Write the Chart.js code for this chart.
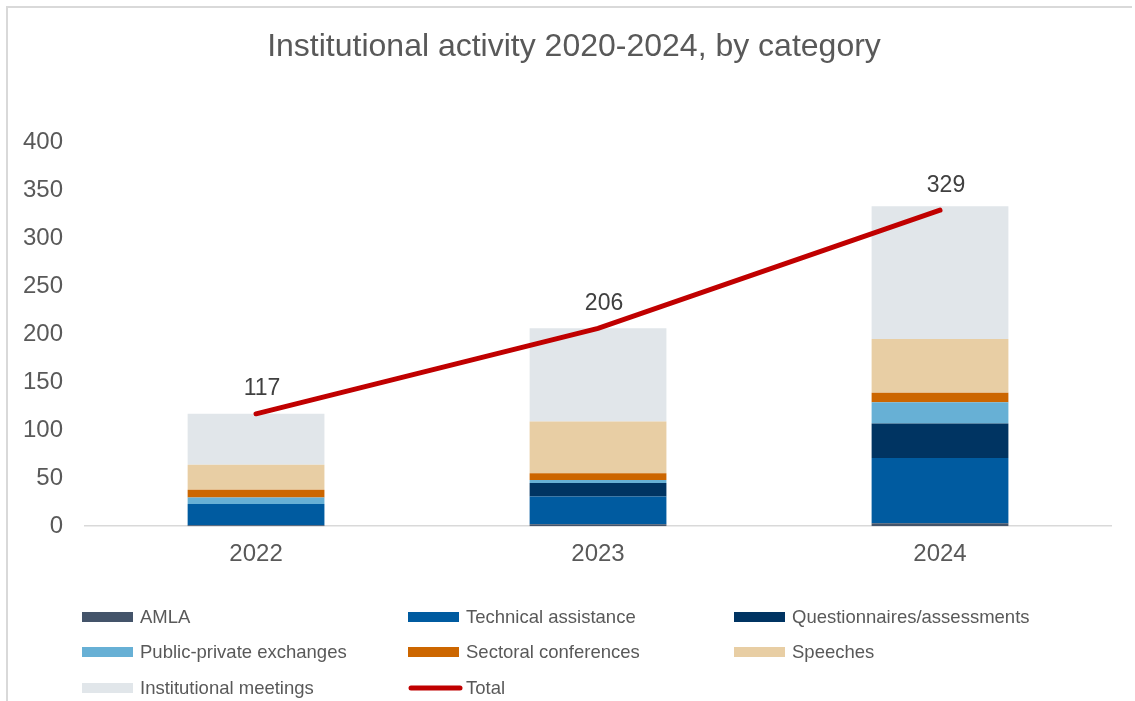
<!DOCTYPE html>
<html>
<head>
<meta charset="utf-8">
<script src="https://cdn.jsdelivr.net/npm/chart.js@4/dist/chart.umd.min.js"></script>
<style>
  html, body { margin: 0; padding: 0; background: #fff; }
  canvas { display: block; }
</style>
</head>
<body>
<canvas id="chart" width="1135" height="701"></canvas>
<script>
const years = ['2022', '2023', '2024'];
const amla = [1, 2, 3];
const technicalAssistance = [22, 29, 68];
const questionnaires = [0, 14, 36];
const publicPrivate = [7, 3, 22];
const sectoralConferences = [8, 7, 10];
const speeches = [26, 54, 56];
const institutionalMeetings = [53, 97, 138];
const total = [117, 206, 329];
const yTicks = [0, 50, 100, 150, 200, 250, 300, 350, 400];
const title = 'Institutional activity 2020-2024, by category';

const FONT = '"Liberation Sans", Arial, sans-serif';
const GREY = '#595959';

function bar(label, data, color) {
  return { type: 'bar', label, data, backgroundColor: color, stack: 'bars', order: 1,
           barPercentage: 0.4, categoryPercentage: 1 };
}

// frame, title, value labels and the 3-column legend
const extras = {
  id: 'extras',
  beforeDraw(chart) {
    const c = chart.ctx;
    c.save();
    c.strokeStyle = '#d9d9d9';
    c.lineWidth = 2;
    c.beginPath();
    c.moveTo(7, 701);
    c.lineTo(7, 7);
    c.lineTo(1132, 7);
    c.stroke();
    c.font = '32px ' + FONT;
    c.fillStyle = GREY;
    c.textAlign = 'center';
    c.textBaseline = 'middle';
    c.fillText(title, 574, 47);
    c.restore();
  },
  afterDatasetsDraw(chart) {
    const c = chart.ctx;
    const idx = chart.data.datasets.findIndex(d => d.type === 'line');
    const meta = chart.getDatasetMeta(idx);
    c.save();
    c.font = '23px ' + FONT;
    c.fillStyle = '#404040';
    c.textAlign = 'center';
    c.textBaseline = 'middle';
    meta.data.forEach((pt, i) => {
      c.fillText(String(total[i]), pt.x + 6, pt.y - 25);
    });
    c.restore();
  },
  afterDraw(chart) {
    const c = chart.ctx;
    const cols = [82, 408, 734];
    const rows = [617, 652, 688];
    c.save();
    c.font = '18.5px ' + FONT;
    c.fillStyle = GREY;
    c.textBaseline = 'middle';
    chart.data.datasets.forEach((ds, i) => {
      const x = cols[i % 3], y = rows[Math.floor(i / 3)];
      if (ds.type === 'line') {
        c.strokeStyle = ds.borderColor;
        c.lineWidth = 5;
        c.lineCap = 'round';
        c.beginPath();
        c.moveTo(x + 3, y);
        c.lineTo(x + 52, y);
        c.stroke();
      } else {
        c.fillStyle = ds.backgroundColor;
        c.fillRect(x, y - 5, 51, 10);
      }
      c.fillStyle = GREY;
      c.fillText(ds.label, x + 58, y + 1);
    });
    c.restore();
  }
};

new Chart(document.getElementById('chart'), {
  data: {
    labels: years,
    datasets: [
      bar('AMLA', amla, '#44546A'),
      bar('Technical assistance', technicalAssistance, '#005BA0'),
      bar('Questionnaires/assessments', questionnaires, '#003462'),
      bar('Public-private exchanges', publicPrivate, '#67B0D5'),
      bar('Sectoral conferences', sectoralConferences, '#CC6600'),
      bar('Speeches', speeches, '#E8CEA4'),
      bar('Institutional meetings', institutionalMeetings, '#E1E6EA'),
      { type: 'line', label: 'Total', data: total, borderColor: '#C00000', backgroundColor: '#C00000',
        borderWidth: 5, borderCapStyle: 'round', pointRadius: 0, stack: 'line', order: 0 }
    ]
  },
  options: {
    responsive: false,
    animation: false,
    layout: { padding: { left: 9, right: 24, top: 142, bottom: 126 } },
    plugins: {
      legend: { display: false },
      tooltip: { enabled: false },
      title: { display: false }
    },
    scales: {
      x: {
        stacked: true,
        grid: { display: false },
        border: { display: true, color: '#d9d9d9', width: 1.5 },
        ticks: { color: GREY, font: { family: FONT, size: 24 }, padding: 6 }
      },
      y: {
        stacked: true,
        min: 0,
        max: 400,
        grid: { display: false },
        border: { display: false },
        afterBuildTicks: axis => { axis.ticks = yTicks.map(v => ({ value: v })); },
        ticks: { color: GREY, font: { family: FONT, size: 24 }, padding: 14 }
      }
    }
  },
  plugins: [extras]
});
</script>
</body>
</html>
